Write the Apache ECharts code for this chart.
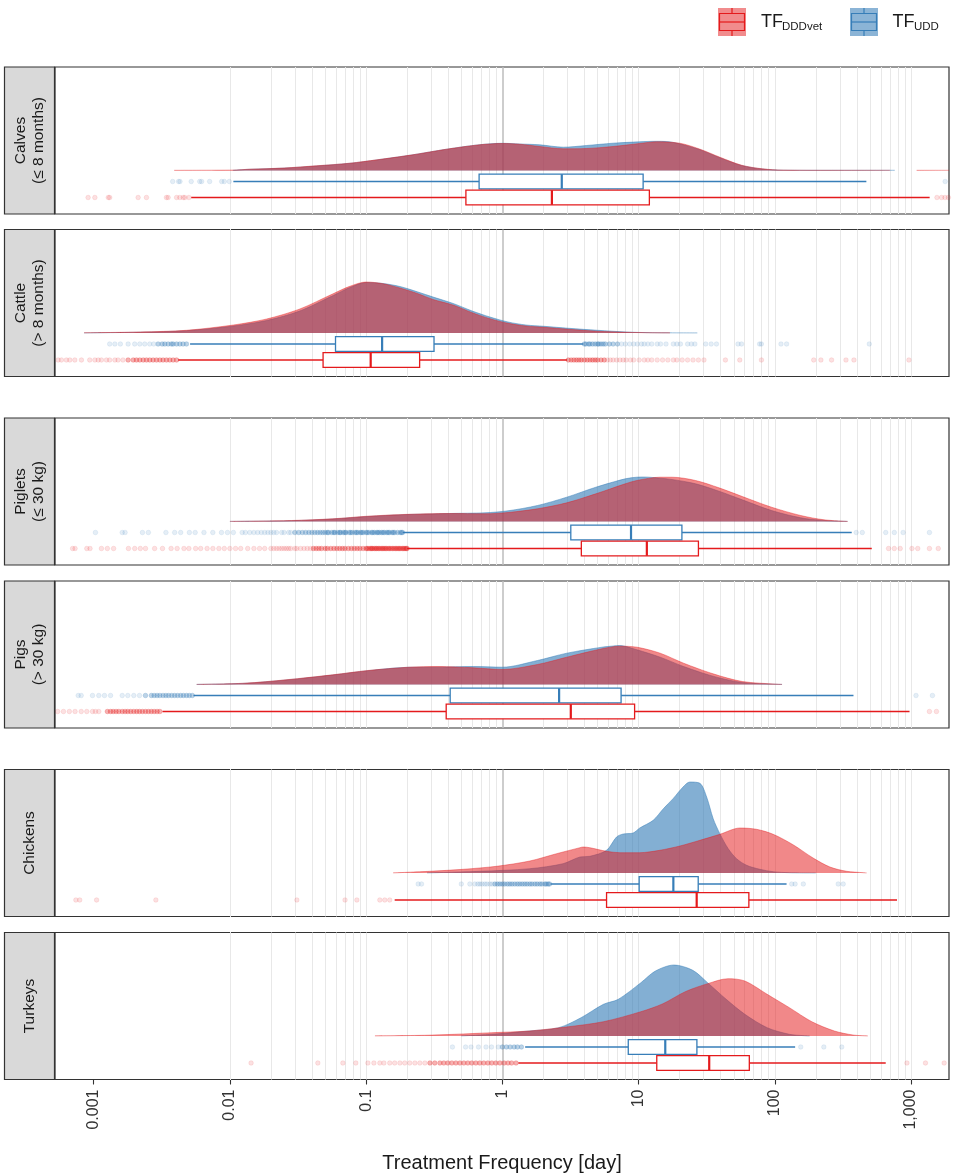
<!DOCTYPE html>
<html>
<head>
<meta charset="utf-8">
<script src="https://cdn.jsdelivr.net/npm/echarts@6/dist/echarts.min.js"></script>
<style>
html, body { margin: 0; padding: 0; background: #fff; }
#chart { width: 957px; height: 1176px; }
</style>
</head>
<body>
<div id="chart"></div>
<script>
// facet labels and x ticks
var panelNames = ['Calves\n(≤ 8 months)', 'Cattle\n(> 8 months)', 'Piglets\n(≤ 30 kg)', 'Pigs\n(> 30 kg)', 'Chickens', 'Turkeys'];
var tickValues = [0.001, 0.01, 0.1, 1, 10, 100, 1000];

// density curves: [treatment frequency, relative height]
var calvesDddDensity = [[0.0039,0.2],[0.0105,0.4],[0.014,1.3],[0.025,2.5],[0.043,4.7],[0.076,7.3],[0.12,10.7],[0.22,15.7],[0.39,21.3],[0.68,25.7],[1,27],[1.34,26.3],[1.88,24],[2.8,21.7],[4.15,22],[6.5,24],[10.2,27],[13.5,28.7],[20,27.3],[28,21.5],[40,13],[57,5.3],[81,1.7],[115,0.4],[250,0.2],[700,0.2],[900,null],[1100,0.2],[1900,0.2]];
var calvesUddDensity = [[0.0105,0.2],[0.014,1.2],[0.025,2.4],[0.043,4.5],[0.076,7.2],[0.12,10.6],[0.22,15.7],[0.39,21.3],[0.68,25.8],[1,27.2],[1.34,26.5],[1.88,25.7],[2.8,23.3],[4.15,25],[6.5,27.3],[10.2,28.7],[13.5,29.2],[16,29],[20,26.7],[28,21],[40,12.5],[57,5],[81,1.5],[115,0.3],[200,0.2],[760,0.2]];
var cattleDddDensity = [[0.00085,0.2],[0.0022,1],[0.0048,2.7],[0.0106,8],[0.0186,14],[0.0326,24],[0.0573,39.3],[0.0759,46.7],[0.1,51],[0.133,49.3],[0.177,45],[0.24,39.3],[0.31,33.5],[0.44,27.7],[0.6,20.3],[0.81,14.3],[1.1,9.7],[1.49,7],[2.02,5.7],[3.08,3.7],[5,1.7],[8.1,0.7],[12.6,0.2],[17,0.1]];
var cattleUddDensity = [[0.00085,0.1],[0.0022,0.8],[0.0048,2.3],[0.0106,7],[0.0186,12.5],[0.0326,22],[0.0573,37.5],[0.0759,45.5],[0.1,50.5],[0.133,49.5],[0.177,46.5],[0.24,41],[0.31,36],[0.44,29.3],[0.6,22],[0.81,16],[1.1,11],[1.49,8],[2.02,6.7],[3.08,4.7],[5,2.7],[8.1,1],[12.6,0.3],[27,0.1]];
var pigletsDddDensity = [[0.01,0.1],[0.0284,1],[0.0569,2.7],[0.103,5.3],[0.186,7],[0.411,8],[0.745,7.7],[1.1,9],[1.81,12.7],[2.97,18.7],[4.86,27.7],[7.98,37.7],[9.7,41],[14.4,44.3],[17.6,44.3],[26.2,41],[38.9,33.7],[57.7,25],[94.6,14.3],[155,6],[230,1.7],[342,0.1]];
var pigletsUddDensity = [[0.01,0.1],[0.0284,0.8],[0.0569,2.5],[0.103,5],[0.186,6.8],[0.411,8],[0.745,8.7],[1.1,10.7],[1.81,16],[2.97,24.3],[4.86,34.3],[7.98,42.7],[9.7,44.3],[11,44.5],[14.4,43.3],[17.6,42],[26.2,37.7],[38.9,30.3],[57.7,21.7],[94.6,11],[155,3.7],[230,1],[342,0.1]];
var pigsDddDensity = [[0.0057,0.1],[0.0129,1.3],[0.0258,4.7],[0.0569,9.7],[0.103,14],[0.206,17.3],[0.337,18],[0.611,16.7],[1,15],[1.81,20],[2.97,27.3],[5.37,35.7],[7.23,38.3],[9.73,37.3],[14.4,31.3],[21.4,21.3],[35.2,10.7],[57.7,3],[104,0.3],[113,0.1]];
var pigsUddDensity = [[0.0057,0.1],[0.0129,1.2],[0.0258,4.5],[0.0569,9.5],[0.103,13.8],[0.206,17.2],[0.337,17.3],[0.611,18],[1,17.3],[1.81,24],[2.97,31.3],[5.37,37.3],[6.5,38.5],[7.23,39],[9.73,34.7],[14.4,27.3],[21.4,18],[35.2,8.3],[57.7,2],[104,0.2],[113,0.1]];
var chickensDddDensity = [[0.158,0.1],[0.293,1.7],[0.515,3.7],[0.906,6.7],[1.59,12],[2.5,19.3],[3.71,25.3],[3.92,26],[4.39,25.3],[5.82,21.7],[7.29,20.3],[10.2,20.3],[14.3,22.7],[20.1,27],[28.2,32.7],[39.5,38.7],[55.5,45],[73.5,43.7],[97.3,38.7],[136,28.3],[191,15],[254,6],[337,1.7],[447,0.3],[472,0.1]];
var chickensUddDensity = [[0.28,0.1],[0.684,1.7],[1.59,4.3],[2.79,9.3],[3.71,16],[4.39,16.7],[5.82,22.7],[6.89,36],[7.71,39],[9.12,40],[10.2,45],[12.8,52.7],[15.2,64.3],[17.9,74.3],[21.2,86],[23.8,91],[28.2,89.7],[31.6,76],[35.3,54.3],[39.5,39.3],[45.5,24.3],[52.4,14.3],[62.1,7.7],[77.8,3.7],[97.3,1.3],[129,0.3],[200,0.1]];
var turkeysDddDensity = [[0.116,0.1],[0.268,0.7],[0.445,1.7],[0.834,3.3],[1.57,5],[2.94,9],[5.52,14.3],[10.4,24.3],[15.1,32.3],[22,44.3],[32.1,52.3],[45.4,57.3],[60.3,55],[87.9,41.7],[128,28.3],[187,14.3],[274,5],[375,1],[482,0.1]];
var turkeysUddDensity = [[0.5,0.1],[0.834,1.7],[1.57,5],[2.59,8.3],[3.78,18.3],[5.52,31.7],[7.1,36.7],[10.4,53.3],[13.3,65],[18.2,71],[25,65.7],[32.1,53.3],[44,36.7],[60.3,21.7],[87.9,8.3],[128,1.7],[165,0.3],[180,0.1]];

// box stats: [lower whisker, Q1, median, Q3, upper whisker]
var calvesDddBox = [0.0052, 0.54, 2.31, 12, 1370];
var calvesUddBox = [0.0106, 0.675, 2.73, 10.8, 470];
var cattleDddBox = [0.00417, 0.0483, 0.108, 0.247, 2.99];
var cattleUddBox = [0.0051, 0.0596, 0.131, 0.315, 3.93];
var pigletsDddBox = [0.2, 3.8, 11.5, 27.5, 515];
var pigletsUddBox = [0.186, 3.18, 8.8, 20.8, 367];
var pigsDddBox = [0.0032, 0.387, 3.18, 9.35, 975];
var pigsUddBox = [0.0054, 0.414, 2.61, 7.44, 378];
var chickensDddBox = [0.162, 5.82, 26.7, 64.5, 789];
var chickensUddBox = [2.26, 10.1, 18, 27.4, 122];
var turkeysDddBox = [1.31, 13.6, 33, 65, 652];
var turkeysUddBox = [1.47, 8.4, 15.7, 26.8, 141];

// outliers, scattered ones
var calvesDddOut = [0.00091,0.00102,0.00128,0.00131,0.00212,0.00244,0.00342,0.00352,0.00406,0.00429,0.00454,0.00467,0.005,1550,1675,1775,1880];
var calvesUddOut = [0.0038,0.0042,0.0043,0.0052,0.006,0.0062,0.0071,0.0087,0.0091,0.0099,1780];
var cattleDddOut = [0.000548,0.00058,0.00063,0.000668,0.000727,0.000813,0.000935,0.00102,0.00108,0.00114,0.00124,0.00131,0.00143,0.00151,0.00164,
  5.9,6.2,6.5,6.9,7.3,7.7,8.1,8.7,9.2,10.1,11,11.7,12.5,13.7,15,16.4,18,19.1,20.9,22.9,25.1,27.5,30.2,43.4,55.3,79.8,193,218,261,333,381,965];
var cattleUddOut = [0.00131,0.00143,0.00157,0.00179,0.002,0.00218,0.00237,0.00258,0.00276,
  7.5,8.0,8.6,9.2,9.8,10.5,11,11.7,12.5,13.7,14.5,15.9,18,19.1,20.3,22.9,24.4,25.9,31.1,34.1,37.3,53.7,57,77.3,79.7,111,122,494];
var pigletsDddOut = [0.0007,0.00073,0.00089,0.00094,0.00114,0.00126,0.0014,0.0018,0.002,0.0022,0.0024,0.0028,0.0032,0.0037,0.0041,0.0046,0.005,0.0056,0.0061,0.0068,0.0075,0.0083,0.0091,0.01,0.011,0.012,0.0135,0.015,0.0165,0.018,0.02,
  0.021,0.022,0.023,0.024,0.025,0.026,0.027,0.028,0.03,0.031,0.033,0.035,0.037,0.039,
  684,754,833,1015,1120,1365,1585];
var pigletsUddOut = [0.00103,0.00162,0.0017,0.00228,0.00252,0.00339,0.00393,0.00435,0.00504,0.00556,0.00645,0.00749,0.00867,0.0096,0.0106,0.0123,
  0.013,0.014,0.015,0.016,0.017,0.018,0.019,0.02,0.021,0.022,0.024,0.025,0.027,0.028,
  396,439,652,754,875,1365];
var pigsDddOut = [0.000544,0.0006,0.000663,0.00073,0.00081,0.00089,0.00098,0.00103,0.00109,1365,1537];
var pigsUddOut = [0.00077,0.00081,0.00098,0.00109,0.0012,0.00133,0.00162,0.00178,0.00197,0.00217,1088,1436];
var chickensDddOut = [0.00074,0.00079,0.00105,0.00286,0.031,0.07,0.0855,0.126,0.137,0.149];
var chickensUddOut = [0.241,0.255,0.5,0.577,0.628,0.66,0.684,0.71,0.744,0.77,0.81,0.84,133,141,162,292,318];
var turkeysDddOut = [0.0143,0.0442,0.0675,0.084,0.103,0.114,0.126,0.135,0.149,0.162,0.177,0.192,0.209,0.228,0.248,0.27,933,1277,1750];
var turkeysUddOut = [0.43,0.537,0.589,0.668,0.758,0.833,0.933,155,229,310];

// outliers, crowded bands
var calvesDddDense = [];
var calvesUddDense = [];
var cattleDddDense = [0.00179,0.00195,0.00206,0.00218,0.00231,0.00244,0.00258,0.00273,0.00289,0.00306,0.00323,0.00342,0.00362,0.00383,0.00406,
  3.05,3.2,3.35,3.5,3.65,3.8,4.0,4.2,4.4,4.6,4.8,5.0,5.3,5.6];
var cattleUddDense = [0.00297,0.00318,0.00333,0.00352,0.00372,0.00383,0.00406,0.00429,0.00453,0.0048,
  4.0,4.1,4.3,4.4,4.6,4.8,5.0,5.1,5.3,5.5,5.7,6.1,6.5,7.0];
var pigletsDddDense = [0.041,0.043,0.045,0.047,0.05,0.052,0.055,0.058,0.061,0.064,0.067,0.07,0.074,0.078,0.082,0.086,0.09,0.095,0.1,0.102,0.105,0.108,0.11,0.112,0.115,0.118,0.12,0.123,0.126,0.129,0.132,0.135,0.138,0.141,0.145,0.148,0.152,0.156,0.16,0.164,0.168,0.172,0.176,0.18,0.185,0.189,0.193,0.197,0.2];
var pigletsUddDense = [0.03,0.032,0.034,0.036,0.038,0.04,0.042,0.044,0.046,0.048,0.05,0.052,0.053,0.056,0.058,0.059,0.062,0.064,0.065,0.068,0.07,0.071,0.075,0.077,0.079,0.083,0.085,0.087,0.091,0.093,0.095,0.1,0.102,0.105,0.11,0.112,0.115,0.12,0.122,0.125,0.13,0.133,0.136,0.142,0.145,0.148,0.155,0.158,0.162,0.17,0.178,0.182,0.185];
var pigsDddDense = [0.00126,0.00133,0.00139,0.00146,0.00153,0.00162,0.0017,0.00178,0.00187,0.00197,0.00207,0.00217,0.00228,0.0024,0.00252,0.00265,0.00278,0.00292,0.00306];
var pigsUddDense = [0.0024,0.00265,0.00278,0.00292,0.00306,0.00323,0.00339,0.00355,0.00374,0.00393,0.00413,0.00435,0.00456,0.0048,0.00504,0.0053];
var chickensDddDense = [];
var chickensUddDense = [0.881,0.92,0.959,1.0,1.04,1.09,1.135,1.18,1.235,1.29,1.344,1.4,1.462,1.52,1.591,1.65,1.732,1.8,1.885,1.95,2.05,2.1,2.17,2.22];
var turkeysDddDense = [0.294,0.319,0.348,0.372,0.398,0.426,0.456,0.488,0.522,0.558,0.597,0.639,0.683,0.731,0.783,0.837,0.896,0.959,1.03,1.1,1.17,1.26];
var turkeysUddDense = [1.0,1.07,1.14,1.22,1.29,1.38];

var panels = [
  { ddd: calvesDddDensity, udd: calvesUddDensity, dddBox: calvesDddBox, uddBox: calvesUddBox, dddOut: calvesDddOut, uddOut: calvesUddOut, dddDense: calvesDddDense, uddDense: calvesUddDense },
  { ddd: cattleDddDensity, udd: cattleUddDensity, dddBox: cattleDddBox, uddBox: cattleUddBox, dddOut: cattleDddOut, uddOut: cattleUddOut, dddDense: cattleDddDense, uddDense: cattleUddDense },
  { ddd: pigletsDddDensity, udd: pigletsUddDensity, dddBox: pigletsDddBox, uddBox: pigletsUddBox, dddOut: pigletsDddOut, uddOut: pigletsUddOut, dddDense: pigletsDddDense, uddDense: pigletsUddDense },
  { ddd: pigsDddDensity, udd: pigsUddDensity, dddBox: pigsDddBox, uddBox: pigsUddBox, dddOut: pigsDddOut, uddOut: pigsUddOut, dddDense: pigsDddDense, uddDense: pigsUddDense },
  { ddd: chickensDddDensity, udd: chickensUddDensity, dddBox: chickensDddBox, uddBox: chickensUddBox, dddOut: chickensDddOut, uddOut: chickensUddOut, dddDense: chickensDddDense, uddDense: chickensUddDense },
  { ddd: turkeysDddDensity, udd: turkeysUddDensity, dddBox: turkeysDddBox, uddBox: turkeysUddBox, dddOut: turkeysDddOut, uddOut: turkeysUddOut, dddDense: turkeysDddDense, uddDense: turkeysUddDense }
];

// layout
var panelTops = [67, 229.5, 418, 581, 769.5, 932.5];
var panelH = 147;
var xMin = 0.00052, xMax = 1900;
var rowUdd = -11, rowDdd = -27; // y rows of the box plots (baseline = 0)

var RED = '#e41a1c', BLUE = '#377eb8';
var RED_FILL = 'rgba(228,26,28,0.52)', BLUE_FILL = 'rgba(55,126,184,0.62)';
var FONT = 'Liberation Sans, Arial, sans-serif';

// light grid lines at k * 10^n
var gridVals = [];
for (var n = -4; n <= 3; n++) {
  for (var k = 1; k <= 9; k++) {
    var v = +(k * Math.pow(10, n)).toPrecision(3);
    if (v > xMin && v < xMax && v !== 1) gridVals.push(v);
  }
}

function fmtTick(v) {
  v = +(+v).toPrecision(3);
  if (v >= 1) return Math.round(v).toLocaleString('en-US');
  return String(v);
}

function boxRenderer(color) {
  return function (params, api) {
    var row = api.value(5);
    var lo = api.coord([api.value(0), row]);
    var q1 = api.coord([api.value(1), row]);
    var md = api.coord([api.value(2), row]);
    var q3 = api.coord([api.value(3), row]);
    var hi = api.coord([api.value(4), row]);
    var y = lo[1], hh = 7.3;
    return {
      type: 'group',
      children: [
        { type: 'line', shape: { x1: lo[0], y1: y, x2: q1[0], y2: y }, style: { stroke: color, lineWidth: 1.3 } },
        { type: 'line', shape: { x1: q3[0], y1: y, x2: hi[0], y2: y }, style: { stroke: color, lineWidth: 1.3 } },
        { type: 'rect', shape: { x: q1[0], y: y - hh, width: q3[0] - q1[0], height: 2 * hh }, style: { fill: '#fff', stroke: color, lineWidth: 1.3 } },
        { type: 'line', shape: { x1: md[0], y1: y - hh, x2: md[0], y2: y + hh }, style: { stroke: color, lineWidth: 2.2 } }
      ]
    };
  };
}

function outlierSeries(i, values, row, rgb, alpha) {
  return {
    type: 'scatter', xAxisIndex: i, yAxisIndex: i, z: 5, silent: true, symbolSize: 4.6,
    itemStyle: { color: 'rgba(' + rgb + ',' + alpha + ')', borderColor: 'rgba(' + rgb + ',' + (alpha + 0.06) + ')', borderWidth: 0.6 },
    data: values.map(function (v) { return [v, row]; })
  };
}

var grids = [], xAxes = [], yAxes = [], series = [], graphics = [];

panels.forEach(function (p, i) {
  var last = i === panels.length - 1;
  grids.push({ left: 55, right: 8, top: panelTops[i], height: panelH, show: true, borderColor: '#333', borderWidth: 1.2, backgroundColor: '#fff' });
  xAxes.push({
    type: 'log', logBase: 10, gridIndex: i, min: xMin, max: xMax,
    axisLine: { show: false, onZero: false }, splitLine: { show: false }, minorTick: { show: false },
    axisTick: { show: last, customValues: tickValues, length: 5, lineStyle: { color: '#333', width: 1.1 } },
    axisLabel: { show: last, customValues: tickValues, rotate: 90, margin: 10, fontSize: 16, fontFamily: FONT, color: '#333', formatter: fmtTick }
  });
  yAxes.push({ type: 'value', gridIndex: i, min: -43.5, max: 103.5, show: false, splitLine: { show: false } });

  // grid lines (kept behind the densities)
  series.push({
    type: 'line', xAxisIndex: i, yAxisIndex: i, data: [], z: 1, silent: true,
    markLine: {
      z: 1, silent: true, symbol: 'none', animation: false, label: { show: false },
      lineStyle: { color: '#e8e8e8', width: 1, type: 'solid' },
      data: gridVals.map(function (g) { return { xAxis: g }; }).concat([{ xAxis: 1, lineStyle: { color: '#bdbdbd', width: 1.5, type: 'solid' } }])
    }
  });
  // densities
  series.push({
    name: 'TF_UDD', type: 'line', xAxisIndex: i, yAxisIndex: i, data: p.udd, z: 2, smooth: 0.3, showSymbol: false, silent: true,
    lineStyle: { color: 'rgba(55,126,184,0.62)', width: 0.8 }, areaStyle: { color: BLUE_FILL, opacity: 1 }
  });
  series.push({
    name: 'TF_DDDvet', type: 'line', xAxisIndex: i, yAxisIndex: i, data: p.ddd, z: 3, smooth: 0.3, showSymbol: false, silent: true,
    lineStyle: { color: 'rgba(228,26,28,0.5)', width: 0.8 }, areaStyle: { color: RED_FILL, opacity: 1 }
  });
  // box plots
  series.push({
    type: 'custom', xAxisIndex: i, yAxisIndex: i, z: 4, silent: true,
    dimensions: ['lo', 'q1', 'md', 'q3', 'hi', 'row'], encode: { x: [0, 1, 2, 3, 4], y: 5 },
    renderItem: boxRenderer(BLUE), data: [p.uddBox.concat([rowUdd])]
  });
  series.push({
    type: 'custom', xAxisIndex: i, yAxisIndex: i, z: 4, silent: true,
    dimensions: ['lo', 'q1', 'md', 'q3', 'hi', 'row'], encode: { x: [0, 1, 2, 3, 4], y: 5 },
    renderItem: boxRenderer(RED), data: [p.dddBox.concat([rowDdd])]
  });
  // outliers
  series.push(outlierSeries(i, p.uddOut, rowUdd, '55,126,184', 0.16));
  series.push(outlierSeries(i, p.dddOut, rowDdd, '228,26,28', 0.16));
  series.push(outlierSeries(i, p.uddDense, rowUdd, '55,126,184', 0.42));
  series.push(outlierSeries(i, p.dddDense, rowDdd, '228,26,28', 0.42));

  // strip label
  graphics.push({
    type: 'rect', shape: { x: 4.5, y: panelTops[i], width: 50, height: panelH },
    style: { fill: '#d9d9d9', stroke: '#333', lineWidth: 1.2 }, z: 10
  });
  graphics.push({
    type: 'text', x: 30, y: panelTops[i] + panelH / 2, rotation: Math.PI / 2, z: 11,
    style: { text: panelNames[i], fontSize: 15.5, fontFamily: FONT, fill: '#1a1a1a', align: 'center', verticalAlign: 'middle', lineHeight: 18 }
  });
});

// legend
function legendKey(x0, fill, stroke) {
  return [
    { type: 'rect', shape: { x: x0, y: 8, width: 28, height: 28 }, style: { fill: fill } },
    { type: 'rect', shape: { x: x0 + 1.5, y: 13.5, width: 25, height: 17 }, style: { fill: 'none', stroke: stroke, lineWidth: 1.2 } },
    { type: 'line', shape: { x1: x0 + 1.5, y1: 22, x2: x0 + 26.5, y2: 22 }, style: { stroke: stroke, lineWidth: 1.2 } },
    { type: 'line', shape: { x1: x0 + 14, y1: 8, x2: x0 + 14, y2: 13.5 }, style: { stroke: stroke, lineWidth: 1.2 } },
    { type: 'line', shape: { x1: x0 + 14, y1: 30.5, x2: x0 + 14, y2: 36 }, style: { stroke: stroke, lineWidth: 1.2 } }
  ];
}
graphics = graphics.concat(legendKey(718, 'rgba(228,26,28,0.5)', RED), legendKey(850, 'rgba(55,126,184,0.58)', BLUE));
graphics.push(
  { type: 'text', x: 761, y: 22, style: { text: 'TF', fontSize: 18, fontFamily: FONT, fill: '#1a1a1a', verticalAlign: 'middle' } },
  { type: 'text', x: 782, y: 27, style: { text: 'DDDvet', fontSize: 11.5, fontFamily: FONT, fill: '#1a1a1a', verticalAlign: 'middle' } },
  { type: 'text', x: 892.5, y: 22, style: { text: 'TF', fontSize: 18, fontFamily: FONT, fill: '#1a1a1a', verticalAlign: 'middle' } },
  { type: 'text', x: 914, y: 27, style: { text: 'UDD', fontSize: 11.5, fontFamily: FONT, fill: '#1a1a1a', verticalAlign: 'middle' } }
);
// axis title
graphics.push({
  type: 'text', x: 502, y: 1163,
  style: { text: 'Treatment Frequency [day]', fontSize: 20, fontFamily: FONT, fill: '#1a1a1a', align: 'center', verticalAlign: 'middle' }
});

var chart = echarts.init(document.getElementById('chart'), null, { renderer: 'canvas' });
chart.setOption({
  animation: false,
  backgroundColor: '#fff',
  grid: grids,
  xAxis: xAxes,
  yAxis: yAxes,
  series: series,
  graphic: { elements: graphics }
});
</script>
</body>
</html>
